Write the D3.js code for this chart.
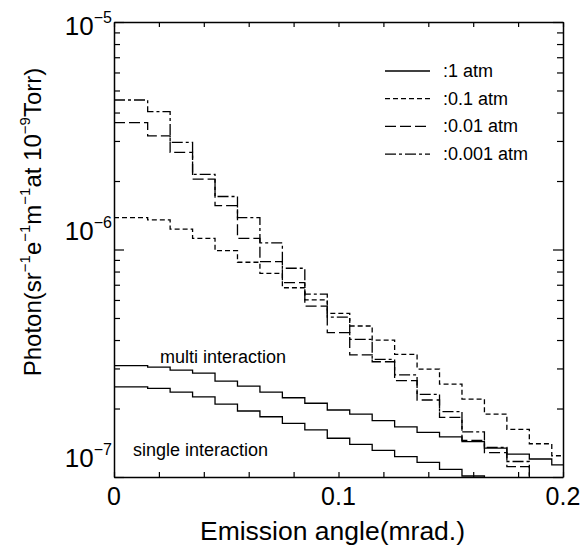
<!DOCTYPE html>
<meta charset="utf-8">
<style>
  body { margin: 0; background: #fff; }
  text { font-family: "Liberation Sans", Arial, sans-serif; fill: #000; }
  .curve { fill: none; stroke: #000; stroke-width: 1.3; }
  .axis path, .axis line { stroke: #000; }
  .axis path { stroke-width: 1.5; }
</style>
<svg width="584" height="550"></svg>
<script src="https://d3js.org/d3.v7.min.js"></script>
<script>
  // bin edges of the histograms (mrad.)
  var binEdges = [0, 0.015, 0.025, 0.035, 0.045, 0.055, 0.065, 0.075, 0.085, 0.095,
    0.105, 0.115, 0.125, 0.135, 0.145, 0.155, 0.165, 0.175, 0.185, 0.195, 0.2];

  // solid curves (1 atm)
  var multiInteraction = [3.09e-7, 3.04e-7, 2.95e-7, 2.86e-7, 2.64e-7, 2.51e-7, 2.36e-7, 2.23e-7, 2.11e-7, 1.97e-7,
    1.89e-7, 1.77e-7, 1.66e-7, 1.57e-7, 1.50e-7, 1.43e-7, 1.34e-7, 1.26e-7, 1.20e-7, 1.13e-7];
  var singleInteraction = [2.49e-7, 2.45e-7, 2.36e-7, 2.25e-7, 2.09e-7, 1.95e-7, 1.84e-7, 1.72e-7, 1.61e-7, 1.48e-7,
    1.39e-7, 1.31e-7, 1.23e-7, 1.16e-7, 1.08e-7, 1.01e-7, 0.95e-7, 0.9e-7, 0.85e-7, 0.8e-7];
  // 0.1 atm
  var atm01 = [1.38e-6, 1.35e-6, 1.23e-6, 1.12e-6, 9.88e-7, 8.79e-7, 7.86e-7, 6.79e-7, 6.00e-7, 5.24e-7,
    4.61e-7, 4.00e-7, 3.46e-7, 2.98e-7, 2.56e-7, 2.20e-7, 1.89e-7, 1.62e-7, 1.40e-7, 1.24e-7];
  // 0.01 atm
  var atm001 = [3.61e-6, 3.16e-6, 2.67e-6, 2.04e-6, 1.56e-6, 1.12e-6, 8.84e-7, 7.15e-7, 5.64e-7, 4.31e-7,
    3.44e-7, 3.21e-7, 2.65e-7, 2.18e-7, 1.83e-7, 1.45e-7, 1.28e-7, 1.11e-7, 0.9e-7, 0.85e-7];
  // 0.001 atm
  var atm0001 = [4.54e-6, 4.04e-6, 2.96e-6, 2.14e-6, 1.71e-6, 1.38e-6, 1.07e-6, 8.27e-7, 6.36e-7, 5.04e-7,
    4.03e-7, 3.29e-7, 2.81e-7, 2.31e-7, 1.94e-7, 1.58e-7, 1.35e-7, 1.17e-7, 0.95e-7, 0.9e-7];

  var xTicks = [0, 0.02, 0.04, 0.06, 0.08, 0.1, 0.12, 0.14, 0.16, 0.18, 0.2];
  var xLabels = [0, 0.1, 0.2];
  var yDecades = [-7, -6, -5];

  var legendItems = [
    {label: ":1 atm", dash: null},
    {label: ":0.1 atm", dash: "5,3"},
    {label: ":0.01 atm", dash: "11,4"},
    {label: ":0.001 atm", dash: "11,3,3,3"}
  ];

  var series = [
    {values: multiInteraction, dash: null},
    {values: singleInteraction, dash: null},
    {values: atm01, dash: "5,3"},
    {values: atm001, dash: "11,4"},
    {values: atm0001, dash: "11,3,3,3"}
  ];

  var svg = d3.select("svg"),
    margin = {top: 22, right: 21, bottom: 73, left: 114},
    width = +svg.attr("width") - margin.left - margin.right,
    height = +svg.attr("height") - margin.top - margin.bottom;

  var x = d3.scaleLinear().domain([0, 0.2]).range([0, width]),
    y = d3.scaleLog().domain([1e-7, 1e-5]).range([height, 0]);

  var g = svg.append("g")
    .attr("transform", "translate(" + margin.left + "," + margin.top + ")");

  g.append("clipPath").attr("id", "clip")
    .append("rect").attr("width", width).attr("height", height);

  // step histograms
  var line = d3.line()
    .x(function(d) { return x(d[0]); })
    .y(function(d) { return y(d[1]); })
    .curve(d3.curveStepAfter);

  series.forEach(function(s) {
    var pts = s.values.map(function(v, i) { return [binEdges[i], v]; });
    pts.push([binEdges[binEdges.length - 1], s.values[s.values.length - 1]]);
    g.append("path")
      .attr("class", "curve")
      .attr("clip-path", "url(#clip)")
      .attr("stroke-dasharray", s.dash)
      .attr("d", line(pts));
  });

  // y tick values: 1..9 x each decade
  var yTicks = [];
  yDecades.forEach(function(e) {
    for (var m = 1; m <= 9; m++) {
      if (e === -5 && m > 1) break;
      yTicks.push(m * Math.pow(10, e));
    }
  });
  function isMajor(d) {
    var l = Math.log10(d);
    return Math.abs(l - Math.round(l)) < 1e-9;
  }

  // x axes (ticks pointing inward)
  g.append("g")
    .attr("class", "axis axis--x")
    .attr("transform", "translate(0," + height + ")")
    .call(d3.axisBottom(x).tickValues(xTicks).tickSize(-5).tickSizeOuter(0).tickFormat(""));
  g.append("g")
    .attr("class", "axis axis--x2")
    .call(d3.axisTop(x).tickValues(xTicks).tickSize(-5).tickSizeOuter(0).tickFormat(""));

  // y axes
  var yl = g.append("g")
    .attr("class", "axis axis--y")
    .call(d3.axisLeft(y).tickValues(yTicks).tickSize(-6).tickSizeOuter(0).tickFormat(""));
  yl.selectAll(".tick line").attr("x2", function(d) { return isMajor(d) ? 10 : 6; });
  var yr = g.append("g")
    .attr("class", "axis axis--y2")
    .attr("transform", "translate(" + width + ",0)")
    .call(d3.axisRight(y).tickValues(yTicks).tickSize(-6).tickSizeOuter(0).tickFormat(""));
  yr.selectAll(".tick line").attr("x2", function(d) { return isMajor(d) ? -10 : -6; });

  g.selectAll(".axis line").attr("stroke-width", 1.2);

  // x labels
  g.selectAll(".xlab")
    .data(xLabels)
    .enter().append("text")
    .attr("class", "xlab")
    .attr("x", function(d) { return x(d); })
    .attr("y", height + 28)
    .attr("text-anchor", "middle")
    .style("font-size", "25px")
    .text(function(d) { return d; });

  // y labels 10^n
  yDecades.forEach(function(e) {
    var yy = Math.max(y(Math.pow(10, e)) - 10, 13);
    var t = g.append("text")
      .attr("x", -2)
      .attr("y", yy)
      .attr("text-anchor", "end")
      .style("font-size", "26px");
    t.append("tspan").text("10");
    t.append("tspan")
      .attr("dy", "-0.72em")
      .style("font-size", "16px")
      .text("\u2212" + (-e));
  });

  // axis titles
  svg.append("text")
    .attr("x", margin.left + width / 2 - 6)
    .attr("y", 540)
    .attr("text-anchor", "middle")
    .style("font-size", "26.5px")
    .text("Emission angle(mrad.)");

  var yt = svg.append("text")
    .attr("transform", "translate(41,222) rotate(-90)")
    .attr("text-anchor", "middle")
    .style("font-size", "24px");
  var parts = [["Photon(sr", ""], ["\u22121", "sup"], ["e", ""], ["\u22121", "sup"], ["m", ""],
    ["\u22121", "sup"], ["at 10", ""], ["\u22129", "sup"], ["Torr)", ""]];
  var raised = false;
  parts.forEach(function(p) {
    var ts = yt.append("tspan").text(p[0]);
    if (p[1] === "sup") {
      ts.style("font-size", "15px").attr("dy", "-0.75em");
      raised = true;
    } else if (raised) {
      ts.attr("dy", "0.47em");
      raised = false;
    }
  });

  // annotations
  g.append("text")
    .attr("x", 46)
    .attr("y", 341)
    .style("font-size", "18px")
    .text("multi interaction");
  g.append("text")
    .attr("x", 19)
    .attr("y", 434)
    .style("font-size", "18px")
    .text("single interaction");

  // legend
  var legend = g.append("g").attr("transform", "translate(271,49)");
  var li = legend.selectAll(".li")
    .data(legendItems)
    .enter().append("g")
    .attr("class", "li")
    .attr("transform", function(d, i) { return "translate(0," + (i * 27.7) + ")"; });
  li.append("line")
    .attr("x1", 0).attr("x2", 45)
    .attr("stroke", "#000")
    .attr("stroke-width", 1.3)
    .attr("stroke-dasharray", function(d) { return d.dash; });
  li.append("text")
    .attr("x", 58)
    .attr("y", 6)
    .style("font-size", "18px")
    .text(function(d) { return d.label; });
</script>
